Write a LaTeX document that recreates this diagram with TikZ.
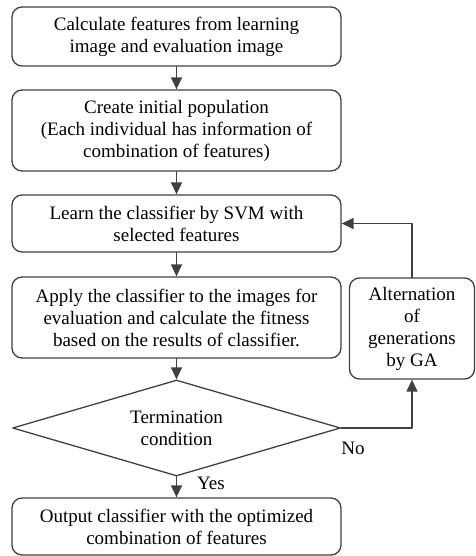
\documentclass[tikz,border=0pt]{standalone}
\usepackage{fontspec}
\setmainfont{Liberation Serif}
\usetikzlibrary{shapes.geometric,arrows.meta}
\definecolor{linegray}{rgb}{0.25,0.25,0.25}

\begin{document}
\begin{tikzpicture}[line cap=round,line join=round,x=1pt,y=-1pt,
    box/.style={draw=linegray,line width=1.3pt,rounded corners=10pt,align=center,inner sep=0pt,minimum width=329pt,font=\fontsize{19}{22}\selectfont},
    arr/.style={-{Triangle[length=12pt,width=11pt]},line width=1.4pt,color=linegray}]

    \useasboundingbox (0,0) rectangle (475,556);

    \node[box,minimum height=59pt] (calc) at (176.5,36.5) {Calculate features from learning\\image and evaluation image};
    \node[box,minimum height=81pt] (init) at (176.5,130.5) {Create initial population\\(Each individual has information of\\combination of features)};
    \node[box,minimum height=57pt] (learn) at (176.5,223.5) {Learn the classifier by SVM with\\selected features};
    \node[box,minimum height=81pt] (apply) at (176.5,317.5) {Apply the classifier to the images for\\evaluation and calculate the fitness\\based on the results of classifier.};
    \node[draw=linegray,line width=1.3pt,diamond,aspect=3.4,minimum width=328pt,minimum height=96pt,inner sep=0pt,align=center,font=\fontsize{19}{22}\selectfont] (term) at (176.5,428) {Termination\\condition};
    \node[box,minimum height=57pt] (out) at (176.5,526.5) {Output classifier with the optimized\\combination of features};
    \node[box,minimum width=125pt,minimum height=101pt] (ga) at (412,328.5) {Alternation\\of\\generations\\by GA};

    \draw[arr] (calc) -- (init);
    \draw[arr] (init) -- (learn);
    \draw[arr] (learn) -- (apply);
    \draw[arr] (apply) -- (term);
    \draw[arr] (term) -- (out);
    \draw[arr] (term.east) -| (ga.south);
    \draw[arr] (ga.north) |- (learn.east);

    \node[font=\fontsize{19}{22}\selectfont] (nolab) at (353,448) {No};
    \node[font=\fontsize{19}{22}\selectfont] (yeslab) at (211,483) {Yes};
\end{tikzpicture}
\end{document}
